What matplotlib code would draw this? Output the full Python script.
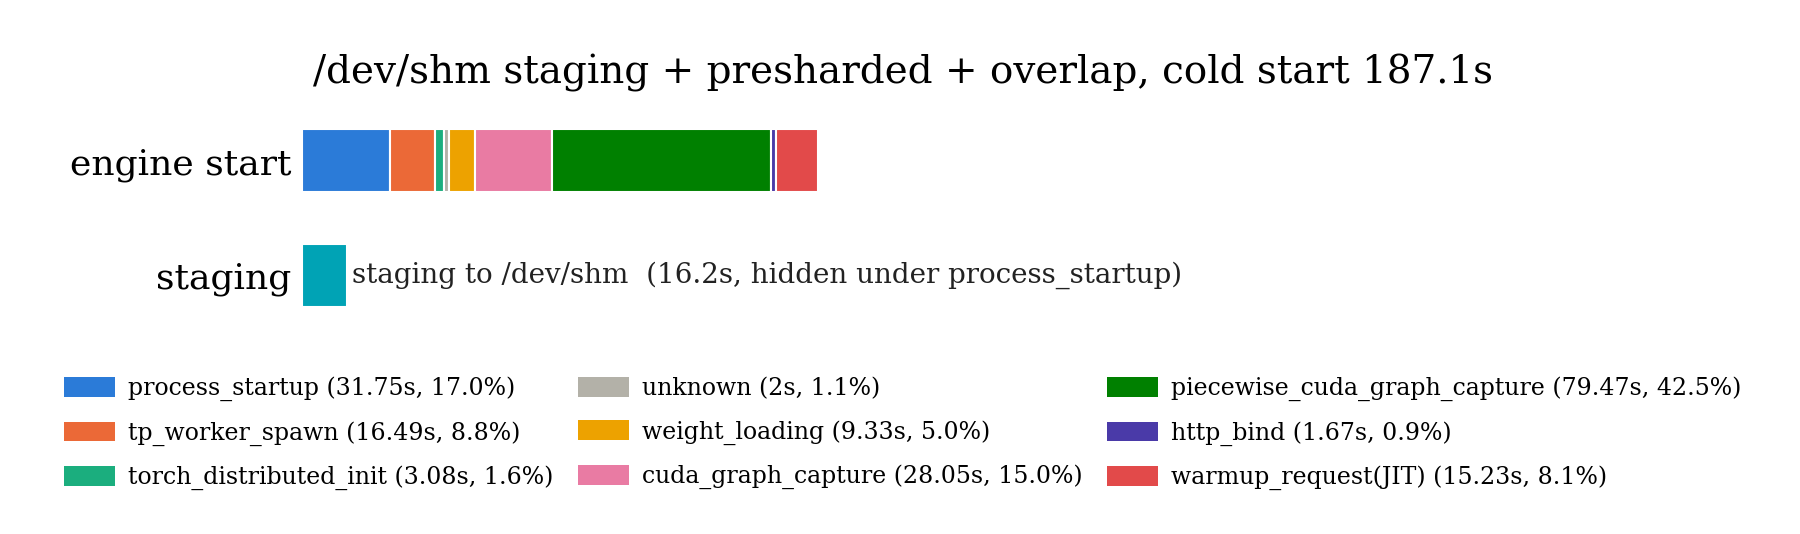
import matplotlib
matplotlib.use("Agg")
import matplotlib.pyplot as plt
from matplotlib.patches import Patch

# phases of the engine start, in order (seconds)
PHASES = ["process_startup", "tp_worker_spawn", "torch_distributed_init",
          "unknown", "weight_loading", "cuda_graph_capture",
          "piecewise_cuda_graph_capture", "http_bind", "warmup_request(JIT)"]
SECONDS = [31.75, 16.49, 3.08, 2.0, 9.33, 28.05, 79.47, 1.67, 15.23]
COLORS = ["#2B7BD8", "#EB6937", "#1BAE7E", "#B3B1A8", "#EDA200",
          "#E97BA3", "#008000", "#4A3AA8", "#E24A4A"]

STAGING_S = 16.2
STAGING_COLOR = "#00A3B5"
ROWS = ["engine start", "staging"]
TOTAL_S = 187.1

plt.rcParams["font.family"] = "DejaVu Serif"

fig = plt.figure(figsize=(18, 5.34), dpi=100)
ax = fig.add_axes([0.168, 0.382, 0.667, 0.431])

left = 0.0
for sec, col in zip(SECONDS, COLORS):
    ax.barh(0, sec, left=left, height=0.55, color=col,
            edgecolor="white", linewidth=1.5)
    left += sec

ax.barh(1, STAGING_S, left=0, height=0.55, color=STAGING_COLOR,
        edgecolor="white", linewidth=1.5)
ax.text(STAGING_S + 1.8, 1, f"staging to /dev/shm  ({STAGING_S}s, hidden under process_startup)",
        va="center", ha="left", fontsize=20, color="#222222")

ax.set_yticks([0, 1])
ax.set_yticklabels(ROWS, fontsize=26)
ax.tick_params(axis="y", length=0, pad=8)
ax.set_ylim(1.476, -0.533)
ax.set_xlim(0, 436)
ax.set_xticks([])
for s in ax.spines.values():
    s.set_visible(False)

ax.set_title(f"/dev/shm staging + presharded + overlap, cold start {TOTAL_S}s",
             fontsize=28, pad=12)

handles = [Patch(facecolor=c, edgecolor="none",
                 label=f"{n} ({s:g}s, {100 * s / TOTAL_S:.1f}%)")
           for n, s, c in zip(PHASES, SECONDS, COLORS)]
ax.legend(handles=handles, ncol=3, loc="upper center",
          bbox_to_anchor=(0.5, -0.11), frameon=False, fontsize=17,
          handlelength=2.16, handleheight=0.92, handletextpad=0.55,
          columnspacing=1.05, labelspacing=0.84)

fig.savefig("out.png", dpi=100)
